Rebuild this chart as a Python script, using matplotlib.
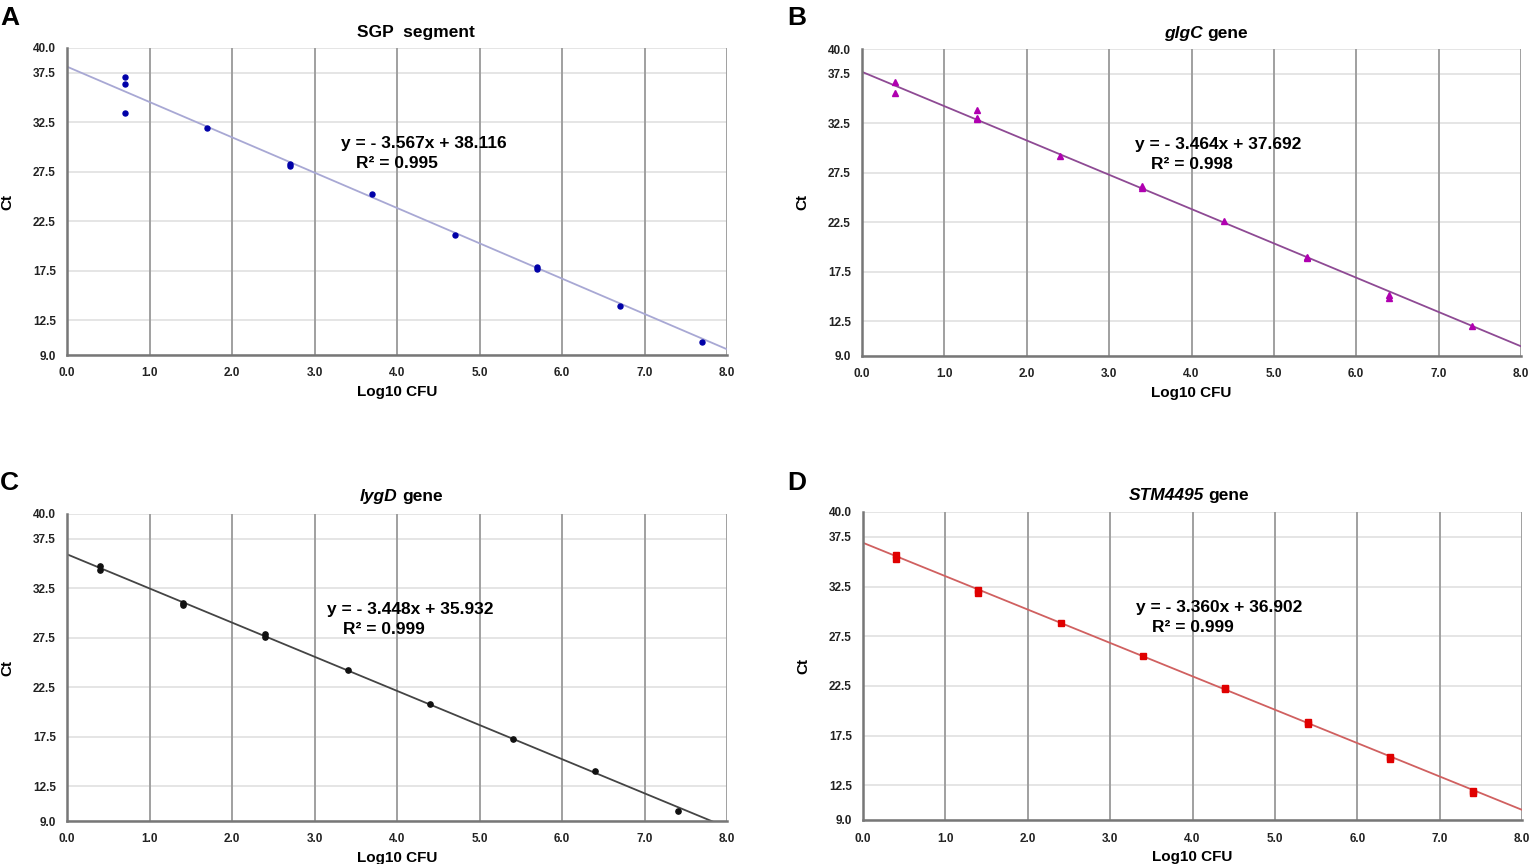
import numpy as np
import matplotlib
matplotlib.use('Agg')
import matplotlib.pyplot as plt

plt.rcParams['font.family'] = ['Liberation Sans', 'DejaVu Sans']

# Ct standard curves, four targets
xa = [0.7, 0.7, 0.7, 1.7, 2.7, 2.7, 3.7, 4.7, 5.7, 5.7, 6.7, 7.7]
ya = [37.1, 36.4, 33.4, 31.9, 28.3, 28.1, 25.3, 21.1, 17.9, 17.7, 13.9, 10.3]

xb = [0.4, 0.4, 1.4, 1.4, 1.4, 2.4, 3.4, 3.4, 4.4, 5.4, 5.4, 6.4, 6.4, 7.4]
yb = [36.7, 35.6, 33.8, 33.0, 32.9, 29.2, 26.2, 26.0, 22.6, 19.0, 18.9, 15.2, 14.9, 12.0]

xc = [0.4, 0.4, 1.4, 1.4, 2.4, 2.4, 3.4, 4.4, 5.4, 6.4, 7.4]
yc = [34.7, 34.3, 31.0, 30.8, 27.9, 27.6, 24.2, 20.8, 17.3, 14.0, 10.0]

xd = [0.4, 0.4, 1.4, 1.4, 2.4, 3.4, 4.4, 4.4, 5.4, 5.4, 6.4, 6.4, 7.4, 7.4]
yd = [35.7, 35.3, 32.1, 31.8, 28.8, 25.5, 22.3, 22.2, 18.9, 18.7, 15.3, 15.1, 11.9, 11.7]

slopes = [-3.567, -3.464, -3.448, -3.360]
intercepts = [38.116, 37.692, 35.932, 36.902]
r2 = [0.995, 0.998, 0.999, 0.999]

# titles: italic part + plain part
title_it = ['', 'glgC', 'lygD', 'STM4495']
title_rm = ['SGP  segment', 'gene', 'gene', 'gene']

xticks = [0.0, 1.0, 2.0, 3.0, 4.0, 5.0, 6.0, 7.0, 8.0]
yticks = [9.0, 12.5, 17.5, 22.5, 27.5, 32.5, 37.5, 40.0]

panels = [
    dict(letter='A', x=xa, y=ya, mk='o', mc='#0000a8', lc='#a8a8d4', ms=3.6, split=0.529, ty=1.05, eq=(0.54, 0.69), r=(0.50, 0.625)),
    dict(letter='B', x=xb, y=yb, mk='^', mc='#b000b0', lc='#8e4a94', ms=4.5, split=0.52, ty=1.052, eq=(0.54, 0.69), r=(0.50, 0.625)),
    dict(letter='C', x=xc, y=yc, mk='o', mc='#111111', lc='#444444', ms=3.8, split=0.504, ty=1.058, eq=(0.52, 0.69), r=(0.48, 0.625)),
    dict(letter='D', x=xd, y=yd, mk='s', mc='#e00000', lc='#d06060', ms=4.2, split=0.52, ty=1.052, eq=(0.54, 0.69), r=(0.50, 0.625)),
]

# axes box edges in pixels (left, top, right, bottom)
W, H = 1536, 864
boxes = [(67, 48, 727, 355), (862, 49, 1521, 356), (67, 514, 727, 821), (863, 512, 1522, 820)]
letter_pos = [(0, 18), (787, 18), (0, 483), (787, 483)]

fig = plt.figure(figsize=(15.36, 8.64), dpi=100)

for i, p in enumerate(panels):
    l, t, r, b = boxes[i]
    ax = fig.add_axes([l / W, 1 - b / H, (r - l) / W, (b - t) / H])
    ax.set_xlim(0, 8)
    ax.set_ylim(9, 40)
    for yv in yticks:
        ax.axhline(yv, color='#e0e0e0', lw=1.2, zorder=0)
    for xv in xticks[1:]:
        ax.axvline(xv, color='#a0a0a0', lw=1.4, zorder=0)
    xs = np.array([0.0, 8.0])
    ax.plot(xs, slopes[i] * xs + intercepts[i], color=p['lc'], lw=1.3, zorder=2)
    ax.plot(p['x'], p['y'], linestyle='none', marker=p['mk'], color=p['mc'],
            ms=p['ms'], zorder=3)
    ax.set_xticks(xticks)
    ax.set_xticklabels(['%.1f' % v for v in xticks], fontsize=8.5, fontweight='bold', color='#222222')
    ax.set_yticks(yticks)
    ax.set_yticklabels(['%.1f' % v for v in yticks], fontsize=8.5, fontweight='bold', color='#222222')
    ax.tick_params(axis='x', length=0, pad=9)
    ax.tick_params(axis='y', length=0, pad=8)
    for s in ['top', 'right']:
        ax.spines[s].set_visible(False)
    ax.spines['left'].set_color('#777777')
    ax.spines['left'].set_linewidth(1.8)
    ax.spines['bottom'].set_color('#777777')
    ax.spines['bottom'].set_linewidth(1.8)
    ax.set_xlabel('Log10 CFU', fontsize=11, fontweight='bold', labelpad=4)
    ax.set_ylabel('Ct', fontsize=11, fontweight='bold', labelpad=13)

    # title
    if title_it[i]:
        ax.text(p['split'] - 0.003, p['ty'], title_it[i], transform=ax.transAxes,
                ha='right', va='center', fontsize=12.5, fontweight='bold', style='italic')
        ax.text(p['split'] + 0.004, p['ty'], title_rm[i], transform=ax.transAxes,
                ha='left', va='center', fontsize=12.5, fontweight='bold')
    else:
        ax.text(p['split'], p['ty'], title_rm[i], transform=ax.transAxes,
                ha='center', va='center', fontsize=12.5, fontweight='bold')

    ax.text(p['eq'][0], p['eq'][1], 'y = - %.3fx + %.3f' % (-slopes[i], intercepts[i]),
            transform=ax.transAxes, ha='center', va='center', fontsize=12.5, fontweight='bold')
    ax.text(p['r'][0], p['r'][1], 'R² = %.3f' % r2[i],
            transform=ax.transAxes, ha='center', va='center', fontsize=12.5, fontweight='bold')
    fig.text(letter_pos[i][0] / W, 1 - letter_pos[i][1] / H, p['letter'],
             fontsize=19, fontweight='bold', ha='left', va='center')

fig.savefig('out.png', dpi=100)
